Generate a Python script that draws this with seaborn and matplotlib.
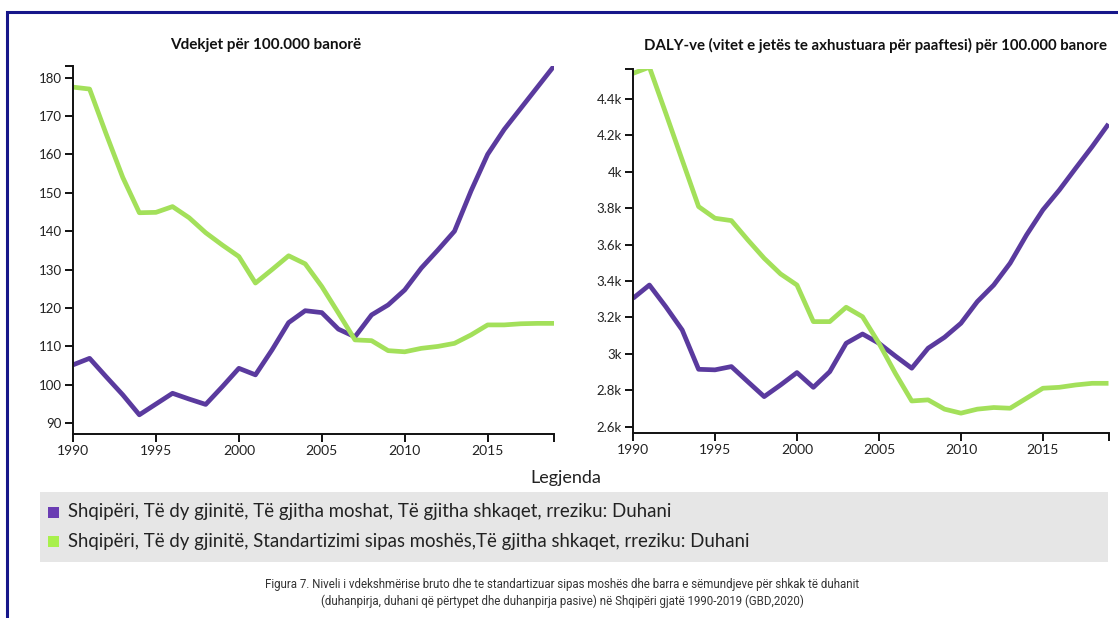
import matplotlib
matplotlib.use("Agg")
import matplotlib.pyplot as plt
from matplotlib.patches import Rectangle
from matplotlib.ticker import FuncFormatter, FixedLocator
import numpy as np
import pandas as pd
import seaborn as sns

years = list(range(1990, 2020))

# Deaths per 100,000 inhabitants
deaths_all_ages = [105.2, 106.9, 102.1, 97.4, 92.2, 95.0, 97.8, 96.3, 94.9, 99.5,
                   104.3, 102.6, 109.1, 116.2, 119.3, 118.8, 114.5, 112.5, 118.2, 120.8,
                   124.7, 130.4, 135.1, 140.0, 150.5, 160.0, 166.5, 172.0, 177.5, 183.0]
deaths_age_std = [177.5, 177.0, 165.3, 154.0, 144.8, 144.9, 146.4, 143.5, 139.6, 136.4,
                  133.4, 126.5, 130.0, 133.6, 131.5, 125.6, 118.7, 111.7, 111.5, 108.9,
                  108.6, 109.5, 110.0, 110.8, 113.0, 115.6, 115.6, 115.9, 116.0, 116.0]

# DALYs per 100,000 inhabitants
daly_all_ages = [3305, 3378, 3259, 3131, 2915, 2912, 2930, 2847, 2765, 2829,
                 2897, 2816, 2902, 3058, 3109, 3058, 2988, 2921, 3031, 3091,
                 3168, 3287, 3378, 3498, 3653, 3791, 3900, 4020, 4138, 4263]
daly_age_std = [4541, 4575, 4322, 4065, 3809, 3745, 3732, 3626, 3525, 3439,
                3378, 3177, 3177, 3256, 3204, 3058, 2893, 2741, 2747, 2696,
                2674, 2696, 2705, 2701, 2756, 2811, 2816, 2829, 2838, 2838]

series_names = [
    "Shqipëri, Të dy gjinitë, Të gjitha moshat, Të gjitha shkaqet, rreziku: Duhani",
    "Shqipëri, Të dy gjinitë, Standartizimi sipas moshës,Të gjitha shkaqet, rreziku: Duhani",
]
line_colors = ["#5a3a9e", "#a3e05a"]
swatch_colors = ["#6a3db3", "#a8f04c"]

titles = ["Vdekjet për 100.000 banorë",
          "DALY-ve (vitet e jetës te axhustuara për paaftesi) për 100.000 banore"]
xticks = [1990, 1995, 2000, 2005, 2010, 2015]
left_yticks = list(range(90, 190, 10))
right_yticks = list(range(2600, 4600, 200))
legend_title = "Legjenda"
caption = ("Figura 7. Niveli i vdekshmërise bruto dhe te standartizuar sipas moshës dhe barra e sëmundjeve për shkak të duhanit\n"
           "(duhanpirja, duhani që përtypet dhe duhanpirja pasive) në Shqipëri gjatë 1990-2019 (GBD,2020)")


def long_frame(first, second):
    return pd.DataFrame({
        "year": years * 2,
        "value": first + second,
        "series": [series_names[0]] * len(years) + [series_names[1]] * len(years),
    })


sns.set_style("white")
plt.rcParams["font.family"] = ["Lato", "DejaVu Sans"]

W, H = 1118, 618
fig = plt.figure(figsize=(W / 100, H / 100), dpi=100)
fig.patch.set_facecolor("white")


def px_axes(x0, y0, x1, y1):
    return fig.add_axes([x0 / W, 1 - y1 / H, (x1 - x0) / W, (y1 - y0) / H])


ax1 = px_axes(73, 66, 554, 434)
ax2 = px_axes(633, 69, 1108.5, 433)

panels = [
    (ax1, long_frame(deaths_all_ages, deaths_age_std), (87.2, 183.0), left_yticks,
     FuncFormatter(lambda v, p: f"{v:.0f}")),
    (ax2, long_frame(daly_all_ages, daly_age_std), (2565, 4565), right_yticks,
     FuncFormatter(lambda v, p: f"{v / 1000:g}k")),
]

for ax, df, ylim, yticks, fmt in panels:
    sns.lineplot(data=df, x="year", y="value", hue="series", hue_order=series_names,
                 palette=line_colors, linewidth=3.4, ax=ax, legend=False,
                 solid_capstyle="butt")
    ax.set_xlim(1990, 2019)
    ax.set_ylim(*ylim)
    ax.xaxis.set_major_locator(FixedLocator(xticks))
    ax.xaxis.set_minor_locator(FixedLocator([2019]))
    ax.yaxis.set_major_locator(FixedLocator(yticks))
    ax.yaxis.set_minor_locator(FixedLocator([ylim[1]]))
    ax.yaxis.set_major_formatter(fmt)
    ax.set_xlabel("")
    ax.set_ylabel("")
    for side in ("top", "right"):
        ax.spines[side].set_visible(False)
    for side in ("left", "bottom"):
        ax.spines[side].set_color("#111111")
        ax.spines[side].set_linewidth(1.4)
    ax.tick_params(axis="both", which="both", direction="out", length=6, width=1.4,
                   color="#111111", bottom=True, left=True)
    ax.tick_params(axis="x", labelsize=10, labelcolor="#222222", pad=2)
    ax.tick_params(axis="y", labelsize=9.5, labelcolor="#222222", pad=2)
    ax.set_facecolor("white")

fig.text(266 / W, 1 - 45 / H, titles[0], ha="center", va="center",
         fontsize=11, fontweight="bold", color="#111111")
fig.text(875 / W, 1 - 45 / H, titles[1], ha="center", va="center",
         fontsize=10.8, fontweight="bold", color="#111111")

# Legend panel
fig.text(566 / W, 1 - 478 / H, legend_title, ha="center", va="center",
         fontsize=13, color="#222222")
fig.patches.append(Rectangle((40 / W, 1 - 562 / H), (1108 - 40) / W, 70 / H,
                             transform=fig.transFigure, facecolor="#e6e6e6",
                             edgecolor="none", zorder=0))
for i, (name, col) in enumerate(zip(series_names, swatch_colors)):
    yc = [512, 541][i]
    fig.patches.append(Rectangle((47.5 / W, 1 - (yc + 5.5) / H), 11 / W, 11 / H,
                                 transform=fig.transFigure, facecolor=col,
                                 edgecolor="none", zorder=1))
    fig.text(68 / W, 1 - yc / H, name, ha="left", va="center",
             fontsize=13.4, color="#222222")

fig.text(562 / W, 1 - 593 / H, caption, ha="center", va="center", fontsize=8.3,
         color="#333333", linespacing=1.3, family=["Roboto", "DejaVu Sans"])

# Page frame
fig.patches.append(Rectangle((7 / W, -0.1), 1.2, 1.1 - 12.5 / H,
                             transform=fig.transFigure, facecolor="none",
                             edgecolor="#16168a", linewidth=2.2, zorder=5))

fig.savefig("out.png", dpi=100, facecolor="white")
